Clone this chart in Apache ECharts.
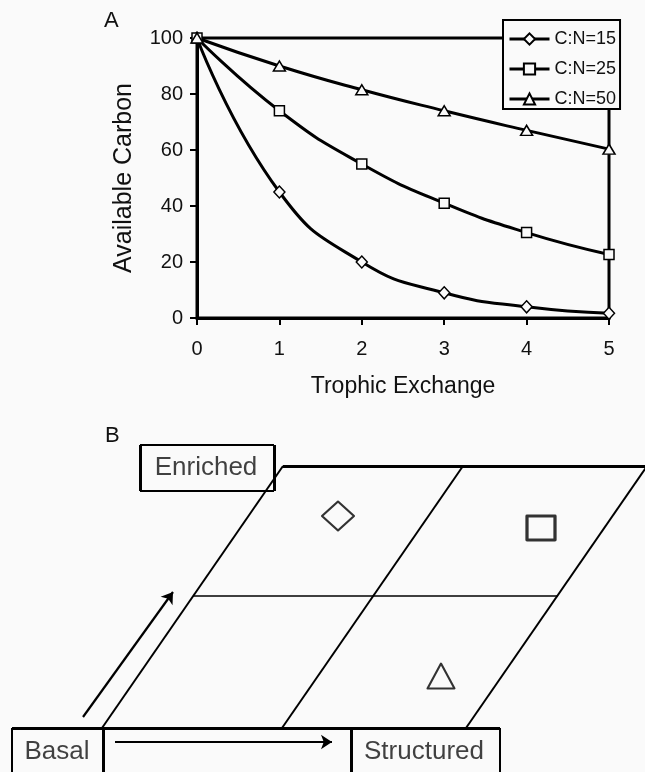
<!DOCTYPE html>
<html>
<head>
<meta charset="utf-8">
<script src="https://cdn.jsdelivr.net/npm/echarts@6/dist/echarts.min.js"></script>
<style>html,body{margin:0;padding:0;background:#fafafa;}#c{width:645px;height:772px;}</style>
</head>
<body>
<div id="c"></div>
<script>
// ---- Panel A data ----
const categories = [0, 1, 2, 3, 4, 5];
const seriesNames = ['C:N=15', 'C:N=25', 'C:N=50'];
const cn15 = [100, 45, 20, 9, 4, 1.7];
const cn25 = [100, 74, 55, 41, 30.5, 22.7];
const cn50 = [100, 90, 81.5, 74, 67, 60.3];
const seriesSymbols = ['diamond', 'rect', 'triangle'];
const xTitle = 'Trophic Exchange';
const yTitle = 'Available Carbon';

// ---- Panel B diagram (diagram units of a hidden axis pair) ----
const thinSegments = [
  [[102, 44], [283, 306]],
  [[282, 44], [463, 306]],
  [[466, 44], [647, 306]],
  [[140, 327], [274, 327]],
  [[140, 281], [274, 281]],
  [[12, 44], [12, 0]],
  [[500, 44], [500, 0]]
];
const midSegments = [
  [[193, 176], [558, 176]]
];
const thickSegments = [
  [[283, 306], [647, 306]],
  [[140, 327], [140, 281]],
  [[274, 327], [274, 281]],
  [[103, 44], [103, 0]],
  [[351, 44], [351, 0]],
  [[12, 44], [500, 44]]
];
const arrowSegments = [
  [[83, 55], [173, 180]],
  [[115, 30], [332, 30]]
];
const boxLabels = ['Enriched', 'Basal', 'Structured'];
const boxLabelPos = [[206, 304], [57, 20], [424, 20]];
const cellSymbols = ['diamond', 'rect', 'triangle'];
const cellSymbolPos = [[338, 256], [541, 244], [441, 96]];
const cellSymbolSize = [[32, 29], [28, 24], [27, 25]];

const bg = '#fafafa';
const ink = '#111';
const font = 'Liberation Sans, Arial, sans-serif';

const chart = echarts.init(document.getElementById('c'), null, {renderer: 'canvas'});

const lineData = [cn15, cn25, cn50];
const lineSeries = lineData.map((vals, i) => ({
  name: seriesNames[i],
  type: 'line',
  xAxisIndex: 0, yAxisIndex: 0,
  data: categories.map((c, j) => [c, vals[j]]),
  smooth: 0.5,
  symbol: seriesSymbols[i],
  symbolSize: i === 1 ? 10 : (i === 0 ? [11, 12] : [12, 10]),
  lineStyle: {color: '#000', width: 3},
  itemStyle: {color: bg, borderColor: '#000', borderWidth: 1.5}
}));

function segSeries(segs, width, arrow) {
  return {
    type: 'lines',
    coordinateSystem: 'cartesian2d',
    xAxisIndex: 1, yAxisIndex: 1,
    symbol: arrow ? ['none', 'arrow'] : ['none', 'none'],
    symbolSize: arrow ? [0, 11] : 0,
    silent: true,
    lineStyle: {color: '#000', width: width, opacity: 1, curveness: 0},
    data: segs.map(s => ({coords: s}))
  };
}

const option = {
  backgroundColor: bg,
  animation: false,
  textStyle: {fontFamily: font},
  title: [
    {text: 'A', left: 104, top: 10, padding: 0, textStyle: {fontSize: 22, fontWeight: 'normal', color: ink, fontFamily: font}},
    {text: 'B', left: 105, top: 425, padding: 0, textStyle: {fontSize: 22, fontWeight: 'normal', color: ink, fontFamily: font}}
  ],
  legend: {
    data: seriesNames,
    orient: 'vertical',
    left: 503, top: 20,
    itemWidth: 40, itemHeight: 14, itemGap: 12,
    padding: [10, 4, 1, 5],
    backgroundColor: bg,
    borderColor: '#000', borderWidth: 2, borderRadius: 0,
    lineStyle: {width: 3, color: '#000'},
    textStyle: {fontSize: 18, color: ink, lineHeight: 18, fontFamily: font}
  },
  grid: [
    {left: 197, top: 38, width: 412, height: 280, show: true, borderColor: '#000', borderWidth: 3, backgroundColor: 'transparent'},
    {left: 0, top: 420, width: 645, height: 352, show: false}
  ],
  xAxis: [
    {gridIndex: 0, type: 'value', min: 0, max: 5, interval: 1,
     axisLine: {lineStyle: {color: '#000', width: 3}},
     axisTick: {length: 7, lineStyle: {color: '#000', width: 2}},
     axisLabel: {fontSize: 20, color: ink, margin: 21},
     splitLine: {show: false},
     name: xTitle, nameLocation: 'middle', nameGap: 57,
     nameTextStyle: {fontSize: 23, color: ink}},
    {gridIndex: 1, type: 'value', min: 0, max: 645, show: false}
  ],
  yAxis: [
    {gridIndex: 0, type: 'value', min: 0, max: 100, interval: 20,
     axisLine: {show: true, lineStyle: {color: '#000', width: 3}},
     axisTick: {show: true, length: 7, lineStyle: {color: '#000', width: 2}},
     axisLabel: {fontSize: 20, color: ink, margin: 14},
     splitLine: {show: false},
     name: yTitle, nameLocation: 'middle', nameGap: 60,
     nameTextStyle: {fontSize: 25, color: ink}},
    {gridIndex: 1, type: 'value', min: 0, max: 352, show: false}
  ],
  series: lineSeries.concat([
    segSeries(thinSegments, 2, false),
    segSeries(midSegments, 1.5, false),
    segSeries(thickSegments, 3, false),
    segSeries(arrowSegments, 2.2, true),
    {
      type: 'scatter', xAxisIndex: 1, yAxisIndex: 1, silent: true,
      data: cellSymbols.map((s, i) => ({value: cellSymbolPos[i], symbol: s, symbolSize: cellSymbolSize[i],
        itemStyle: {color: bg, borderColor: '#000', borderWidth: i === 1 ? 3 : 2, borderJoin: 'round'}}))
    },
    {
      type: 'scatter', xAxisIndex: 1, yAxisIndex: 1, silent: true,
      symbolSize: 1, itemStyle: {color: 'rgba(0,0,0,0)'},
      label: {show: true, position: 'inside', formatter: p => p.name, fontSize: 26, color: ink, fontFamily: font},
      data: boxLabels.map((t, i) => ({name: t, value: boxLabelPos[i]}))
    }
  ])
};
chart.setOption(option);
</script>
</body>
</html>
